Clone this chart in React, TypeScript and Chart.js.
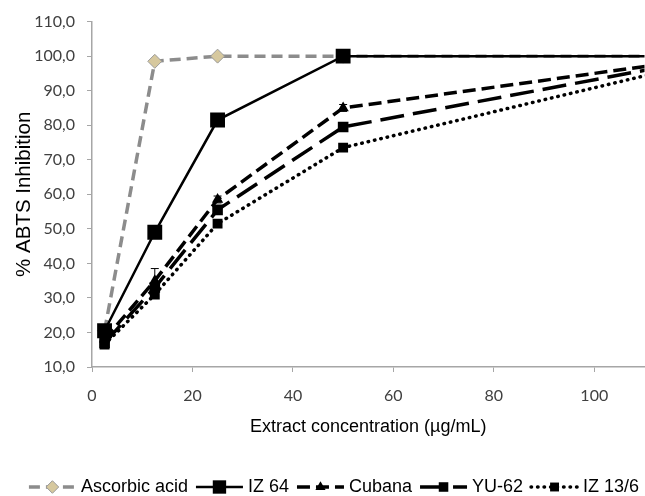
import React, { useEffect, useRef } from 'react';
import { Chart, registerables } from 'chart.js';
import { drawPoint } from 'chart.js/helpers';

Chart.register(...registerables);

// ---- data ----
const concentrations = [2.5, 12.5, 25, 50, 125];
const ascorbicAcid = [20.5, 98.5, 100, 100, 100];
const iz64 = [20.5, 49, 81.5, 100, 100];
const cubana = [18, 35, 58.5, 85, 100];
const yu62 = [17, 33, 55.5, 79.5, 100];
const iz136 = [16.5, 31, 51.5, 73.5, 99.5];
const cubanaError = [0.5, 3.5, 1, 1, 0];
const seriesNames = ['Ascorbic acid', 'IZ 64', 'Cubana', 'YU-62', 'IZ 13/6'];
const xTickValues = [0, 20, 40, 60, 80, 100];
const yTickValues = [10, 20, 30, 40, 50, 60, 70, 80, 90, 100, 110];

const AXIS = '#A6A6A6';
const TICK_FONT = { family: 'Lato, "Open Sans", sans-serif', size: 16 };

const toPoints = (ys: number[]) => concentrations.map((x, i) => ({ x, y: ys[i] }));

const errorBars = {
  id: 'errorBars',
  afterDatasetsDraw(chart: any) {
    const ctx = chart.ctx;
    const xs = chart.scales.x;
    const ys = chart.scales.y;
    ctx.save();
    ctx.beginPath();
    ctx.rect(chart.chartArea.left, chart.chartArea.top, chart.chartArea.right - chart.chartArea.left, chart.chartArea.bottom - chart.chartArea.top);
    ctx.clip();
    chart.data.datasets.forEach((ds: any) => {
      if (!ds.errors) return;
      ds.data.forEach((p: any, i: number) => {
        const e = ds.errors[i];
        if (!e) return;
        const px = xs.getPixelForValue(p.x);
        const top = ys.getPixelForValue(p.y + e);
        const bot = ys.getPixelForValue(p.y - e);
        ctx.strokeStyle = '#000';
        ctx.lineWidth = 1;
        ctx.setLineDash([]);
        ctx.beginPath();
        ctx.moveTo(px, top);
        ctx.lineTo(px, bot);
        ctx.moveTo(px - 4, top);
        ctx.lineTo(px + 4, top);
        ctx.moveTo(px - 4, bot);
        ctx.lineTo(px + 4, bot);
        ctx.stroke();
      });
    });
    ctx.restore();
  },
};

const lineLegend = {
  id: 'lineLegend',
  afterDraw(chart: any) {
    const ctx = chart.ctx;
    const sets = chart.data.datasets;
    ctx.save();
    ctx.font = '18px "Liberation Sans", Arial, sans-serif';
    const sample = 47;
    const gap1 = 5;
    const gap2 = 8;
    const widths = sets.map((ds: any) => sample + gap1 + ctx.measureText(ds.label).width);
    const total = widths.reduce((a: number, b: number) => a + b, 0) + gap2 * (sets.length - 1);
    let x = 334 - total / 2;
    const y = 487;
    sets.forEach((ds: any, i: number) => {
      ctx.save();
      ctx.strokeStyle = ds.borderColor;
      ctx.lineWidth = ds.borderWidth;
      ctx.lineCap = ds.borderCapStyle || 'butt';
      ctx.setLineDash(ds.borderDash || []);
      ctx.beginPath();
      ctx.moveTo(x, y);
      ctx.lineTo(x + sample, y);
      ctx.stroke();
      ctx.setLineDash([]);
      ctx.lineCap = 'butt';
      ctx.fillStyle = ds.pointBackgroundColor;
      ctx.strokeStyle = ds.pointBorderColor;
      ctx.lineWidth = ds.pointBorderWidth;
      drawPoint(ctx, { pointStyle: ds.pointStyle, radius: ds.pointRadius * 0.9, rotation: 0, borderWidth: ds.pointBorderWidth }, x + sample / 2, y);
      ctx.restore();
      ctx.fillStyle = '#000';
      ctx.textBaseline = 'middle';
      ctx.textAlign = 'left';
      ctx.fillText(ds.label, x + sample + gap1, y);
      x += widths[i] + gap2;
    });
    ctx.restore();
  },
};

export default function App() {
  const ref = useRef<HTMLCanvasElement | null>(null);

  useEffect(() => {
    if (!ref.current) return;
    const chart = new Chart(ref.current, {
      type: 'line',
      data: {
        datasets: [
          {
            label: seriesNames[0],
            data: toPoints(ascorbicAcid),
            borderColor: '#8C8C8C',
            borderWidth: 3.5,
            borderDash: [11, 6],
            pointStyle: 'rectRot',
            pointRadius: 7,
            pointBackgroundColor: '#D6C89E',
            pointBorderColor: '#9A9A9A',
            pointBorderWidth: 1,
            order: 5,
          } as any,
          {
            label: seriesNames[1],
            data: toPoints(iz64),
            borderColor: '#000',
            borderWidth: 2.5,
            pointStyle: 'rect',
            pointRadius: 10.5,
            pointBackgroundColor: '#000',
            pointBorderColor: '#000',
            pointBorderWidth: 0,
            order: 1,
          },
          {
            label: seriesNames[2],
            data: toPoints(cubana),
            errors: cubanaError,
            borderColor: '#000',
            borderWidth: 3.5,
            borderDash: [13, 6],
            pointStyle: 'triangle',
            pointRadius: 6.5,
            pointBackgroundColor: '#000',
            pointBorderColor: '#000',
            pointBorderWidth: 0,
            order: 2,
          } as any,
          {
            label: seriesNames[3],
            data: toPoints(yu62),
            borderColor: '#000',
            borderWidth: 3.5,
            borderDash: [24, 9],
            pointStyle: 'rect',
            pointRadius: 7.5,
            pointBackgroundColor: '#000',
            pointBorderColor: '#000',
            pointBorderWidth: 0,
            order: 3,
          },
          {
            label: seriesNames[4],
            data: toPoints(iz136),
            borderColor: '#000',
            borderWidth: 3.5,
            borderDash: [0.5, 6],
            borderCapStyle: 'round',
            pointStyle: 'rect',
            pointRadius: 7,
            pointBackgroundColor: '#000',
            pointBorderColor: '#000',
            pointBorderWidth: 0,
            order: 4,
          },
        ],
      },
      options: {
        animation: false,
        responsive: false,
        layout: { padding: { top: 20, right: 0, bottom: 54, left: 0 } },
        plugins: { legend: { display: false }, tooltip: { enabled: false } },
        elements: { line: { tension: 0 } },
        scales: {
          x: {
            type: 'linear',
            min: 0,
            max: 110,
            afterFit: (s: any) => {
              s.height = 75;
            },
            afterBuildTicks: (s: any) => {
              s.ticks = xTickValues.map((v) => ({ value: v }));
            },
            ticks: { color: '#404040', font: TICK_FONT, padding: 14, maxRotation: 0 },
            grid: { drawOnChartArea: false, drawTicks: true, tickLength: 5, color: AXIS },
            border: { color: AXIS, width: 1.5 },
            title: {
              display: true,
              text: 'Extract concentration (µg/mL)',
              color: '#000',
              font: { family: '"Liberation Sans", Arial, sans-serif', size: 18 },
              padding: { top: 0, bottom: 4 },
            },
          },
          y: {
            type: 'linear',
            min: 10,
            max: 110,
            afterFit: (s: any) => {
              s.width = 92;
            },
            afterBuildTicks: (s: any) => {
              s.ticks = yTickValues.map((v) => ({ value: v }));
            },
            ticks: {
              color: '#404040',
              font: TICK_FONT,
              padding: 12,
              callback: (v: any) => Number(v).toFixed(1).replace('.', ','),
            },
            grid: { drawOnChartArea: false, drawTicks: true, tickLength: 5, color: AXIS },
            border: { color: AXIS, width: 1.5 },
            title: {
              display: true,
              text: '% ABTS Inhibition',
              color: '#000',
              font: { family: '"Liberation Sans", Arial, sans-serif', size: 20.5 },
              padding: { top: 12, bottom: 0 },
            },
          },
        },
      } as any,
      plugins: [errorBars, lineLegend],
    });
    return () => chart.destroy();
  }, []);

  return (
    <div style={{ position: 'absolute', left: 0, top: 0, width: 645, height: 496, overflow: 'hidden', background: '#fff' }}>
      <canvas ref={ref} width={655} height={496} style={{ width: 655, height: 496, display: 'block' }} />
    </div>
  );
}
